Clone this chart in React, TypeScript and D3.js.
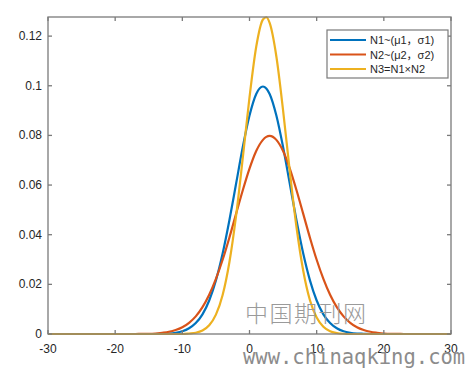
import React from "react";
import * as d3 from "d3";

// sample points (x positions shared by all three curves)
const xValues = [
  -30, -29, -28, -27, -26, -25, -24, -23, -22, -21, -20, -19, -18, -17, -16, -15,
  -14, -13, -12, -11, -10, -9, -8, -7, -6, -5, -4, -3, -2, -1, 0, 1, 2, 2.5, 3, 4,
  5, 6, 7, 8, 9, 10, 11, 12, 13, 14, 15, 16, 17, 18, 19, 20, 21, 22, 23, 24, 25,
  26, 27, 28, 29, 30,
];

const n1Values = [
  0, 0, 0, 0, 0, 0, 0, 0, 0, 0, 0, 0, 0, 0, 0, 0, 0,
  0.0001, 0.0002, 0.0005, 0.0011, 0.0023, 0.0044, 0.0079, 0.0135, 0.0216, 0.0324,
  0.0457, 0.0605, 0.0753, 0.088, 0.0967, 0.0997, 0.0989, 0.0967, 0.088, 0.0753,
  0.0605, 0.0457, 0.0324, 0.0216, 0.0135, 0.0079, 0.0044, 0.0023, 0.0011, 0.0005,
  0.0002, 0.0001,
  0, 0, 0, 0, 0, 0, 0, 0, 0, 0, 0, 0, 0,
];

const n2Values = [
  0, 0, 0, 0, 0, 0, 0, 0, 0, 0, 0, 0, 0, 0,
  0.0001, 0.0001, 0.0002, 0.0005, 0.0009, 0.0016, 0.0027, 0.0045, 0.0071, 0.0108,
  0.0158, 0.0222, 0.0299, 0.0388, 0.0484, 0.0579, 0.0666, 0.0737, 0.0782, 0.0794,
  0.0798, 0.0782, 0.0737, 0.0666, 0.0579, 0.0484, 0.0388, 0.0299, 0.0222, 0.0158,
  0.0108, 0.0071, 0.0045, 0.0027, 0.0016, 0.0009, 0.0005, 0.0002, 0.0001, 0.0001,
  0, 0, 0, 0, 0, 0, 0, 0,
];

const n3Values = [
  0, 0, 0, 0, 0, 0, 0, 0, 0, 0, 0, 0, 0, 0, 0, 0, 0, 0, 0, 0, 0,
  0.0002, 0.0005, 0.0014, 0.0035, 0.0078, 0.0157, 0.0288, 0.0476, 0.0709, 0.0953,
  0.1157, 0.1267, 0.1276, 0.1253, 0.1118, 0.0901, 0.0655, 0.043, 0.0255, 0.0136,
  0.0066, 0.0029, 0.0011, 0.0004, 0.0001,
  0, 0, 0, 0, 0, 0, 0, 0, 0, 0, 0, 0, 0, 0, 0, 0,
];

const seriesNames = ["N1~(μ1，σ1)", "N2~(μ2，σ2)", "N3=N1×N2"];
const seriesColors = ["#0072BD", "#D95319", "#EDB120"];
const xTicks = [-30, -20, -10, 0, 10, 20, 30];
const yTicks = [0, 0.02, 0.04, 0.06, 0.08, 0.1, 0.12];

const width = 472;
const height = 372;
const margin = { top: 17, right: 21, bottom: 38, left: 48 };
const axisColor = "#7a7a7a";
const textColor = "#262626";
const font = "'Liberation Sans', Arial, 'Noto Sans CJK SC', sans-serif";

export default function App() {
  const x = d3.scaleLinear().domain([-30, 30]).range([margin.left, width - margin.right]);
  const y = d3.scaleLinear().domain([0, 0.1277]).range([height - margin.bottom, margin.top]);

  const line = d3
    .line<number>()
    .x((_, i) => x(xValues[i]))
    .y((d) => y(d))
    .curve(d3.curveMonotoneX);

  const series = [n1Values, n2Values, n3Values];
  const [x0, x1] = x.range();
  const [yb, yt] = y.range();
  const tickLen = 4;

  return (
    <div style={{ position: "absolute", left: 0, top: 0 }}>
      <svg width={width} height={height} style={{ display: "block", background: "#fff" }}>
        {/* curves */}
        <g fill="none" strokeWidth={2.2} strokeLinejoin="round">
          {series.map((s, i) => (
            <path key={i} d={line(s) || ""} stroke={seriesColors[i]} />
          ))}
        </g>

        {/* box + inward ticks */}
        <g stroke={axisColor} strokeWidth={1.3} fill="none">
          <rect x={x0} y={yt} width={x1 - x0} height={yb - yt} />
          {xTicks.map((t) => (
            <g key={"xt" + t}>
              <line x1={x(t)} x2={x(t)} y1={yb} y2={yb - tickLen} />
              <line x1={x(t)} x2={x(t)} y1={yt} y2={yt + tickLen} />
            </g>
          ))}
          {yTicks.map((t) => (
            <g key={"yt" + t}>
              <line x1={x0} x2={x0 + tickLen} y1={y(t)} y2={y(t)} />
              <line x1={x1} x2={x1 - tickLen} y1={y(t)} y2={y(t)} />
            </g>
          ))}
        </g>

        {/* tick labels */}
        <g fontFamily={font} fontSize={12} fill={textColor}>
          {xTicks.map((t) => (
            <text key={"xl" + t} x={x(t)} y={yb + 19} textAnchor="middle">
              {String(t)}
            </text>
          ))}
          {yTicks.map((t) => (
            <text key={"yl" + t} x={x0 - 6} y={y(t) + 4} textAnchor="end">
              {String(t)}
            </text>
          ))}
        </g>

        {/* legend */}
        <g>
          <rect x={327} y={30} width={121} height={48} fill="#fff" stroke={axisColor} strokeWidth={1.2} />
          {seriesNames.map((name, i) => (
            <g key={name} transform={`translate(0,${40 + i * 14.5})`}>
              <line x1={330} x2={366} y1={0} y2={0} stroke={seriesColors[i]} strokeWidth={2.2} />
              <text x={370} y={4} fontFamily={font} fontSize={11} fill={textColor}>
                {name}
              </text>
            </g>
          ))}
        </g>

        {/* watermark */}
        <text x={245} y={322} fontFamily="'Noto Sans CJK SC', sans-serif" fontWeight={300}
          fontSize={23} fill="#9a9a9a" letterSpacing={1.5}>
          中国期刊网
        </text>
        <text x={243} y={364} fontFamily="'DejaVu Sans Mono', monospace" fontSize={20.5} fill="#8c8c8c">
          www.chinaqking.com
        </text>
      </svg>
    </div>
  );
}
